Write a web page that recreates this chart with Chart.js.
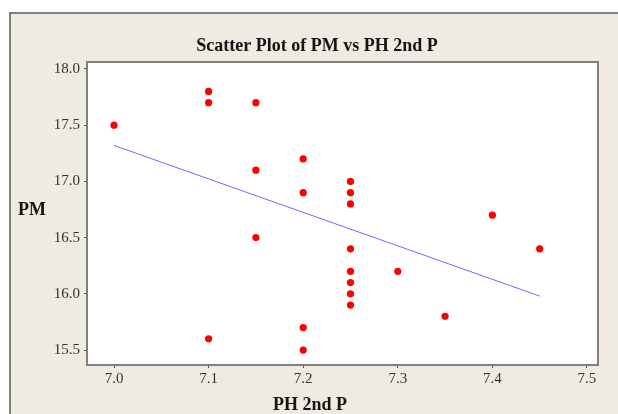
<!DOCTYPE html>
<html>
<head>
<meta charset="utf-8">
<script src="https://cdn.jsdelivr.net/npm/chart.js@4"></script>
<style>
  html, body { margin: 0; padding: 0; background: #fff; }
  .wrap { position: relative; width: 618px; height: 414px; overflow: hidden; }
  .frame {
    position: absolute; left: 9px; top: 12px; width: 640px; height: 430px;
    background: #efebe2; border-left: 2px solid #7f7f7f; border-top: 2px solid #7f7f7f;
  }
  canvas { position: absolute; left: 0; top: 0; }
</style>
</head>
<body>
<div class="wrap">
  <div class="frame"></div>
  <canvas id="chart" width="618" height="414"></canvas>
</div>
<script>
// PH 2nd P vs PM readings
const phValues = [7.0, 7.1, 7.1, 7.1, 7.15, 7.15, 7.15, 7.2, 7.2, 7.2, 7.2,
  7.25, 7.25, 7.25, 7.25, 7.25, 7.25, 7.25, 7.25, 7.3, 7.35, 7.4, 7.45];
const pmValues = [17.5, 17.8, 17.7, 15.6, 17.7, 17.1, 16.5, 17.2, 16.9, 15.7, 15.5,
  17.0, 16.9, 16.8, 16.4, 16.2, 16.1, 16.0, 15.9, 16.2, 15.8, 16.7, 16.4];

// fitted line end points
const fitX = [7.0, 7.45];
const fitY = [17.32, 15.98];

const titleText = 'Scatter Plot of PM vs PH 2nd P';
const xLabel = 'PH 2nd P';
const yLabel = 'PM';

const points = phValues.map((x, i) => ({ x: x, y: pmValues[i] }));
const fitLine = fitX.map((x, i) => ({ x: x, y: fitY[i] }));

const tickFont = { family: 'Liberation Serif', size: 15 };

// white plot box + title + axis labels
const frameDeco = {
  id: 'frameDeco',
  beforeDatasetsDraw(chart) {
    const { ctx, chartArea: a } = chart;
    ctx.save();
    ctx.fillStyle = '#ffffff';
    ctx.fillRect(a.left, a.top, a.right - a.left, a.bottom - a.top);
    ctx.restore();
  },
  afterDraw(chart) {
    const { ctx, chartArea: a } = chart;
    ctx.save();
    ctx.strokeStyle = '#808080';
    ctx.lineWidth = 2;
    ctx.strokeRect(a.left - 1, a.top - 1, a.right - a.left + 2, a.bottom - a.top + 2);

    ctx.fillStyle = '#141414';
    ctx.textAlign = 'center';
    ctx.textBaseline = 'middle';
    ctx.font = 'bold 18px "Liberation Serif"';
    ctx.fillText(titleText, 317, 46);
    ctx.fillText(xLabel, 310, 405);
    ctx.textAlign = 'left';
    ctx.fillText(yLabel, 18, 210);
    ctx.restore();
  }
};

new Chart(document.getElementById('chart').getContext('2d'), {
  type: 'scatter',
  data: {
    datasets: [
      {
        label: 'Fit',
        type: 'line',
        data: fitLine,
        borderColor: '#6b6bff',
        borderWidth: 1,
        pointRadius: 0,
        fill: false,
        order: 2
      },
      {
        label: 'PM',
        data: points,
        backgroundColor: '#ff0000',
        borderWidth: 0,
        pointRadius: 3.6,
        order: 1
      }
    ]
  },
  options: {
    responsive: false,
    animation: false,
    events: [],
    layout: { padding: { left: 0, right: 21, top: 63, bottom: 0 } },
    plugins: {
      legend: { display: false },
      tooltip: { enabled: false }
    },
    scales: {
      x: {
        type: 'linear',
        min: 6.9725,
        max: 7.5106,
        afterFit: (s) => { s.height = 50; },
        border: { display: false },
        grid: { drawOnChartArea: false, tickLength: 4, color: '#555' },
        ticks: {
          stepSize: 0.1,
          includeBounds: false,
          font: tickFont,
          color: '#333',
          padding: 2,
          callback: (v) => Number(v).toFixed(1)
        }
      },
      y: {
        min: 15.376,
        max: 18.053,
        afterFit: (s) => { s.width = 88; },
        border: { display: false },
        grid: { drawOnChartArea: false, tickLength: 4, color: '#555' },
        ticks: {
          stepSize: 0.5,
          includeBounds: false,
          font: tickFont,
          color: '#333',
          padding: 4,
          callback: (v) => Number(v).toFixed(1)
        }
      }
    }
  },
  plugins: [frameDeco]
});
</script>
</body>
</html>
